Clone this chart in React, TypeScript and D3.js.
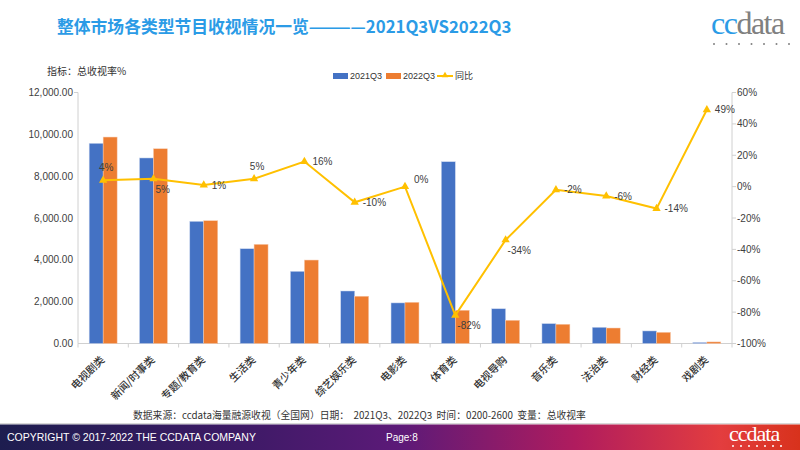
import React from "react";
import * as d3 from "d3";

const categories = ["电视剧类","新闻/时事类","专题/教育类","生活类","青少年类","综艺娱乐类","电影类","体育类","电视导购","音乐类","法治类","财经类","戏剧类"];
const series2021 = [9570, 8870, 5840, 4530, 3450, 2510, 1940, 8690, 1660, 950, 775, 600, 50];
const series2022 = [9870, 9310, 5870, 4740, 3990, 2260, 1970, 1590, 1110, 920, 740, 535, 75];
const yoy = [4, 5, 1, 5, 16, -10, 0, -82, -34, -2, -6, -14, 49];
const yoyLabels = ["4%","5%","1%","5%","16%","-10%","0%","-82%","-34%","-2%","-6%","-14%","49%"];
const leftTicks = [0, 2000, 4000, 6000, 8000, 10000, 12000];
const rightTicks = [-100, -80, -60, -40, -20, 0, 20, 40, 60];
const seriesNames = ["2021Q3", "2022Q3", "同比"];
// label placement: a = above, r = right, b = below-right, ar = above-right
const labelPlacement = ["a","b","r","a","r","r","ar","b","b","r","r","r","r"];

const W = 800, H = 450;
const L = 78, R = 732, T = 92.5, B = 343.5;
const BLUE = "#4472c4", ORANGE = "#ed7d31", GOLD = "#ffc000";
const SANS = "'Liberation Sans', Arial, sans-serif";
const CJK = "'Noto Sans CJK SC', 'Noto Sans', sans-serif";
const SERIF = "'Liberation Serif', 'DejaVu Serif', serif";
const NB = "\u00a0";

export default function App() {
  const x = d3.scaleBand<string>().domain(categories).range([L, R]).paddingInner(0).paddingOuter(0);
  const x1 = d3.scaleBand<string>().domain(["a", "b"]).range([0, x.bandwidth()]).paddingInner(0).paddingOuter(0.8);
  const yL = d3.scaleLinear().domain([0, 12000]).range([B, T]);
  const yR = d3.scaleLinear().domain([-100, 60]).range([B, T]);
  const fmt = d3.format(",.2f");
  const cx = (c: string) => (x(c) as number) + x.bandwidth() / 2;
  const line = d3.line<number>().x((_, i) => cx(categories[i])).y((d) => yR(d));
  const tri = d3.symbol().type(d3.symbolTriangle).size(30)();
  const dots = (x0: number, y0: number, col: string, gap: number) =>
    d3.range(7).map((i) => <circle key={i} cx={x0 + i * gap} cy={y0} r={1} fill={col} />);

  return (
    <div style={{ position: "fixed", left: 0, top: 0 }}>
      <svg width={W} height={H} style={{ display: "block", background: "#fff" }}>
        <defs>
          <linearGradient id="foot" x1="0" x2="1" y1="0" y2="0">
            <stop offset="0" stopColor="#1d1d4f" />
            <stop offset="0.3" stopColor="#3d1a66" />
            <stop offset="0.5" stopColor="#5c1a78" />
            <stop offset="0.72" stopColor="#b01c5e" />
            <stop offset="0.9" stopColor="#e33d3f" />
            <stop offset="1" stopColor="#d8321c" />
          </linearGradient>
        </defs>
        {/* Title */}
        <text x={57} y={33} fontFamily={CJK} fontSize={16.8} fontWeight="bold" fill="#2b9be6">
          整体市场各类型节目收视情况一览————2021Q3VS2022Q3
        </text>
        {/* Logo */}
        <text x={711} y={34} fontFamily={SERIF} fontSize={32} letterSpacing={-1.5}>
          <tspan fill="#2b9be6">cc</tspan><tspan fill="#808080">data</tspan>
        </text>
        {dots(714, 44, "#808080", 12.5)}

        <text x={47} y={75} fontFamily={CJK} fontSize={10} fill="#333">指标：总收视率%</text>

        {/* Legend */}
        <rect x={333} y={73} width={15} height={6} fill={BLUE} />
        <text x={350} y={79} fontFamily={SANS} fontSize={9} fill="#333">{seriesNames[0]}</text>
        <rect x={386} y={73} width={15} height={6} fill={ORANGE} />
        <text x={403} y={79} fontFamily={SANS} fontSize={9} fill="#333">{seriesNames[1]}</text>
        <line x1={437} x2={453} y1={76} y2={76} stroke={GOLD} strokeWidth={2} />
        <path d={d3.symbol().type(d3.symbolTriangle).size(18)() as string} transform="translate(445,75.5)" fill={GOLD} />
        <text x={455} y={79} fontFamily={CJK} fontSize={9} fill="#333">{seriesNames[2]}</text>

        {/* Axes */}
        <line x1={L} x2={L} y1={T} y2={B} stroke="#d0d0d0" />
        <line x1={L - 4} x2={L} y1={T} y2={T} stroke="#d0d0d0" />
        <line x1={R} x2={R} y1={T} y2={B} stroke="#d0d0d0" />
        {rightTicks.map((t) => (
          <line key={t} x1={R} x2={R + 4} y1={yR(t)} y2={yR(t)} stroke="#d0d0d0" />
        ))}
        <line x1={L} x2={R} y1={B} y2={B} stroke="#d0d0d0" />
        {categories.map((c) => (
          <line key={c} x1={x(c) as number} x2={x(c) as number} y1={B} y2={B + 4} stroke="#d0d0d0" />
        ))}
        <line x1={R} x2={R} y1={B} y2={B + 4} stroke="#d0d0d0" />
        {leftTicks.map((t) => (
          <text key={t} x={73} y={yL(t) + 3.5} textAnchor="end" fontFamily={SANS} fontSize={10} fill="#404040">{fmt(t)}</text>
        ))}
        {rightTicks.map((t) => (
          <text key={t} x={737} y={yR(t) + 3.5} fontFamily={SANS} fontSize={10} fill="#404040">{t}%</text>
        ))}

        {/* Bars */}
        {categories.map((c, i) => (
          <g key={c}>
            <rect x={(x(c) as number) + (x1("a") as number)} y={yL(series2021[i])} width={x1.bandwidth()} height={B - yL(series2021[i])} fill={BLUE} stroke="#c9d6ee" strokeWidth={0.5} />
            <rect x={(x(c) as number) + (x1("b") as number)} y={yL(series2022[i])} width={x1.bandwidth()} height={B - yL(series2022[i])} fill={ORANGE} stroke="#f7cbb0" strokeWidth={0.5} />
          </g>
        ))}

        {/* X labels */}
        {categories.map((c) => (
          <text key={c} transform={`translate(${cx(c) + 2},${B + 17}) rotate(-45)`} textAnchor="end" fontFamily={CJK} fontSize={10.5} fontWeight={500} fill="#333">{c}</text>
        ))}

        {/* Line */}
        <path d={line(yoy) as string} fill="none" stroke={GOLD} strokeWidth={2} />
        {yoy.map((v, i) => (
          <path key={i} d={tri as string} transform={`translate(${cx(categories[i])},${yR(v)})`} fill={GOLD} />
        ))}
        {yoy.map((v, i) => {
          const px = cx(categories[i]), py = yR(v);
          const p = labelPlacement[i];
          let lx = px + 8, ly = py + 3.5, anchor = "start";
          if (p === "a") { lx = px + 3; ly = py - 9; anchor = "middle"; }
          if (p === "b") { lx = px + 2; ly = py + 14; }
          if (p === "ar") { lx = px + 9; ly = py - 4; }
          return (
            <text key={i} x={lx} y={ly} textAnchor={anchor} fontFamily={SANS} fontSize={10} fill="#404040">{yoyLabels[i]}</text>
          );
        })}

        {/* Source */}
        <text x={133} y={419} fontFamily={CJK} fontSize={9.8} fill="#333">
          {`数据来源：ccdata海量融源收视（全国网）日期：${NB}${NB}2021Q3、2022Q3${NB}${NB}时间：0200-2600${NB}${NB}变量：总收视率`}
        </text>

        {/* Footer */}
        <rect x={0} y={423} width={W} height={1.5} fill="#d8d8d8" />
        <rect x={0} y={424.5} width={W} height={25.5} fill="url(#foot)" />
        <text x={7} y={440.5} fontFamily={SANS} fontSize={10.5} fill="#fff">COPYRIGHT © 2017-2022 THE CCDATA COMPANY</text>
        <text x={386} y={440.5} fontFamily={SANS} fontSize={10} fill="#fff">Page:8</text>
        <text x={729} y={441} fontFamily={SERIF} fontSize={22} letterSpacing={-1} fill="#fff">ccdata</text>
        {dots(733, 446, "#fff", 8)}
      </svg>
    </div>
  );
}
